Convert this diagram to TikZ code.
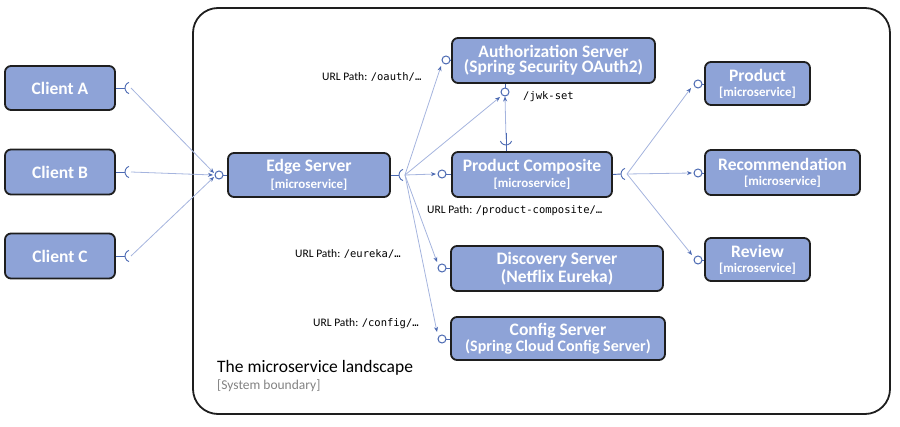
\documentclass[tikz,border=0pt]{standalone}
\usepackage{fontspec}
\setmainfont{Carlito}
\setmonofont{DejaVu Sans Mono}
\usetikzlibrary{arrows.meta}
\definecolor{boxfill}{RGB}{142,163,215}
\definecolor{boxline}{RGB}{30,30,30}
\definecolor{conn}{RGB}{165,180,222}
\definecolor{lol}{RGB}{75,105,178}
\definecolor{graytxt}{RGB}{130,130,130}
\newcommand{\ttl}{\fontsize{17.5}{21}\selectfont\bfseries}
\newcommand{\sub}{\fontsize{13}{15.5}\selectfont\bfseries}
\newcommand{\lbl}{\fontsize{11.5}{13}\selectfont}
\newcommand{\mono}{\fontsize{10.5}{13}\selectfont\ttfamily}
\begin{document}
\begin{tikzpicture}[x=1pt,y=-1pt,
  svc/.style={draw=boxline, line width=1.8pt, fill=boxfill, rounded corners=6pt,
    text=white, align=center, inner sep=0pt},
  link/.style={draw=conn, line width=0.8pt, -{Stealth[length=5pt,width=4pt,color=lol]}},
  stub/.style={draw=lol, line width=0.9pt},
  lolly/.style={draw=lol, line width=1pt, fill=white},
  txt/.style={anchor=west, inner sep=0pt}]
\useasboundingbox (0,0) rectangle (900,427);
% system boundary
\draw[rounded corners=25pt, line width=1.8pt, draw=boxline] (193,8) rectangle (890,414);
% nodes
\node[svc, minimum width=110pt, minimum height=44pt] (ca) at (60,88) {\ttl Client A};
\node[svc, minimum width=110pt, minimum height=45pt] (cb) at (60,172) {\ttl Client B};
\node[svc, minimum width=110pt, minimum height=45pt] (cc) at (60,256) {\ttl Client C};
\node[svc, minimum width=162pt, minimum height=44pt] (edge) at (309,175) {\ttl Edge Server\\[3pt]\sub [microservice]};
\node[svc, minimum width=203pt, minimum height=45pt] (auth) at (553.5,60.5) {\ttl Authorization Server\\[1pt]\ttl (Spring Security OAuth2)};
\node[svc, minimum width=160pt, minimum height=45pt] (pc) at (532,174.5) {\ttl Product Composite\\[3pt]\sub [microservice]};
\node[svc, minimum width=105pt, minimum height=43pt] (prod) at (757.5,83.5) {\ttl Product\\[3pt]\sub [microservice]};
\node[svc, minimum width=155pt, minimum height=45pt] (rec) at (782.5,172.5) {\ttl Recommendation\\[3pt]\sub [microservice]};
\node[svc, minimum width=105pt, minimum height=43pt] (rev) at (757.5,259.5) {\ttl Review\\[3pt]\sub [microservice]};
\node[svc, minimum width=212pt, minimum height=45pt] (disc) at (557,268.5) {\ttl Discovery Server\\[1pt]\ttl (Netflix Eureka)};
\node[svc, minimum width=214pt, minimum height=43pt] (conf) at (558,338.5) {\ttl Config Server\\[0pt]\bfseries\fontsize{16}{20}\selectfont (Spring Cloud Config Server)};
% socket centres
\coordinate (sa) at (131,88);
\coordinate (sb) at (131,172);
\coordinate (sc) at (131,256);
\coordinate (se) at (405,175);
\coordinate (spt) at (506,139);
\coordinate (spr) at (627,174);
% lollipop centres
\coordinate (le) at (219,175);
\coordinate (la) at (446,60);
\coordinate (lj) at (505,92);
\coordinate (lp) at (442,174);
\coordinate (ld) at (442,268);
\coordinate (lc) at (442,339);
\coordinate (lpr) at (698,84);
\coordinate (lre) at (698,173);
\coordinate (lrv) at (698,260);
% arrow end points
\coordinate (ea) at (214,173);
\coordinate (eb) at (213,175);
\coordinate (ec) at (214,177);
\coordinate (aa) at (441,66);
\coordinate (aj) at (500,97);
\coordinate (aj2) at (505,96.5);
\coordinate (ap) at (436,174);
\coordinate (ad) at (437,262);
\coordinate (ac) at (437,332);
\coordinate (apr) at (691,88);
\coordinate (are) at (692,173);
\coordinate (arv) at (692,255);
% connectors
\draw[link] (sa) -- (ea);
\draw[link] (sb) -- (eb);
\draw[link] (sc) -- (ec);
\draw[link] (se) -- (aa);
\draw[link] (se) -- (aj);
\draw[link] (se) -- (ap);
\draw[link] (se) -- (ad);
\draw[link] (se) -- (ac);
\draw[link] (spt) -- (aj2);
\draw[link] (spr) -- (apr);
\draw[link] (spr) -- (are);
\draw[link] (spr) -- (arv);
% sockets (required interfaces)
\foreach \s/\n in {sa/ca, sb/cb, sc/cc, se/edge, spr/pc}{
  \draw[stub] (\n.east) -- ([xshift=-6pt]\s);
  \draw[stub] ([shift={(110:6pt)}]\s) arc[start angle=110, end angle=250, radius=6pt];
}
\draw[stub] (pc.north -| spt) -- ([yshift=6pt]spt);
\draw[stub] ([shift={(200:6pt)}]spt) arc[start angle=200, end angle=340, radius=6pt];
% lollipops (provided interfaces)
\foreach \l/\n in {le/edge, la/auth, lp/pc, ld/disc, lc/conf, lpr/prod, lre/rec, lrv/rev}{
  \draw[stub] ([xshift=4pt]\l) -- (\n.west |- \l);
  \draw[lolly] (\l) circle[radius=4pt];
}
\draw[stub] ([yshift=-4pt]lj) -- (auth.south -| lj);
\draw[lolly] (lj) circle[radius=4pt];
% labels
\node[txt] (t1) at (322,77) {\lbl URL Path: {\mono /oauth/…}};
\node[txt] (t2) at (523,97) {\mono /jwk-set};
\node[txt] (t3) at (427,211) {\lbl URL Path: {\mono /product-composite/…}};
\node[txt] (t4) at (295,254) {\lbl URL Path: {\mono /eureka/…}};
\node[txt] (t5) at (313,324) {\lbl URL Path: {\mono /config/…}};
\node[txt] (t6) at (217,368) {\fontsize{17.5}{20}\selectfont The microservice landscape};
\node[txt, text=graytxt] (t7) at (217,386) {\fontsize{13.5}{15}\selectfont [System boundary]};
\end{tikzpicture}
\end{document}
